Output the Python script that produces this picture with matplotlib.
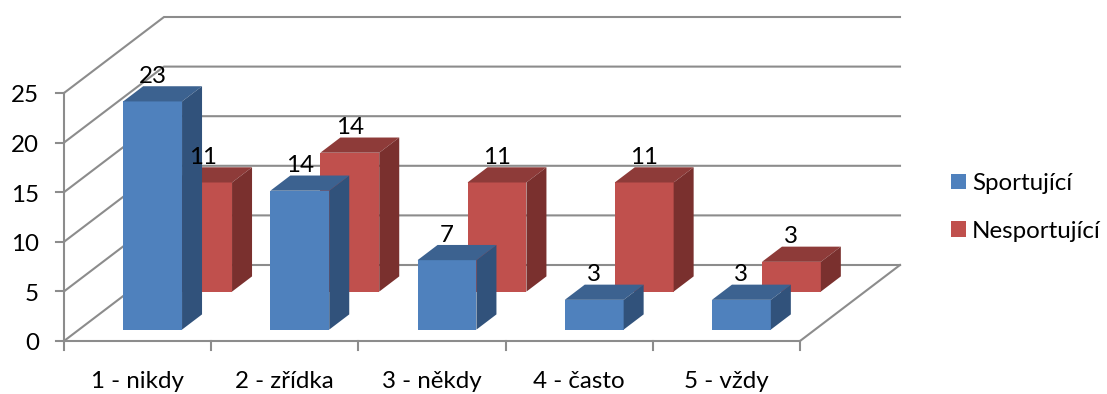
# 3D-style clustered columns: Sportující vs. Nesportující by frequency

import matplotlib
matplotlib.use("Agg")
import matplotlib.pyplot as plt
from matplotlib.patches import Patch, Polygon

plt.rcParams["font.family"] = ["Lato", "DejaVu Sans"]

categories = ["1 - nikdy", "2 - zřídka", "3 - někdy", "4 - často", "5 - vždy"]
sportujici = [23, 14, 7, 3, 3]
nesportujici = [11, 14, 11, 11, 3]
y_ticks = [0, 5, 10, 15, 20, 25]

# px per unit and the oblique depth vector of the box
PX_CAT = 147.2
PX_VAL = 9.92
DX = 100 / PX_CAT
DY = 76 / PX_VAL

GRID = "#8c8c8c"
FONT = 17.4
LW = 1.5


def proj(x, v, d):
    return x + d * DX, v + d * DY


def draw_bar(ax, i, val, d0, d1, front, top, side):
    x0, x1 = i + 0.3, i + 0.7
    ax.add_patch(Polygon([proj(x0, 0, d0), proj(x1, 0, d0), proj(x1, val, d0), proj(x0, val, d0)],
                         fc=front, ec="none", zorder=3))
    ax.add_patch(Polygon([proj(x0, val, d0), proj(x1, val, d0), proj(x1, val, d1), proj(x0, val, d1)],
                         fc=top, ec="none", zorder=3))
    ax.add_patch(Polygon([proj(x1, 0, d0), proj(x1, 0, d1), proj(x1, val, d1), proj(x1, val, d0)],
                         fc=side, ec="none", zorder=3))
    lx, ly = proj(i + 0.5, val, d0)
    ax.annotate(str(val), (lx, ly), xytext=(0, 18), textcoords="offset points",
                ha="center", va="center", fontsize=FONT, color="black", zorder=5)


fig = plt.figure(figsize=(11.07, 3.94), dpi=100)
ax = fig.add_axes([0, 0, 1, 1])
ax.set_xlim(-64 / PX_CAT, (1107 - 64) / PX_CAT)
ax.set_ylim(-(394 - 341) / PX_VAL, 341 / PX_VAL)
ax.axis("off")

n = len(categories)

# walls and floor
for t in y_ticks:
    xs, ys = zip(proj(0, t, 0), proj(0, t, 1), proj(n, t, 1))
    ax.plot(xs, ys, color=GRID, lw=LW, zorder=1, solid_joinstyle="miter")
    ax.plot([-8 / PX_CAT, 0], [t, t], color=GRID, lw=LW, zorder=1)
    ax.text(-25 / PX_CAT, t - 3 / PX_VAL, str(t), ha="right", va="center", fontsize=FONT)

ax.plot([0, 0], [0, y_ticks[-1]], color=GRID, lw=LW, zorder=2)
ax.plot([0, n], [0, 0], color=GRID, lw=LW, zorder=2)
xs, ys = zip(proj(n, 0, 0), proj(n, 0, 1))
ax.plot(xs, ys, color=GRID, lw=LW, zorder=2)

for i in range(n + 1):
    ax.plot([i, i], [0, -9 / PX_VAL], color=GRID, lw=LW, zorder=2)

for i, name in enumerate(categories):
    ax.text(i + 0.5, -41 / PX_VAL, name, ha="center", va="center", fontsize=FONT)

# back row first so the blue bars cover it
for i, val in enumerate(nesportujici):
    draw_bar(ax, i, val, 0.65, 0.85, "#C0504D", "#8E3B39", "#7A302E")
for i, val in enumerate(sportujici):
    draw_bar(ax, i, val, 0.15, 0.35, "#4F81BD", "#3C6290", "#31527B")

handles = [Patch(fc="#4F81BD", label="Sportující"), Patch(fc="#C0504D", label="Nesportující")]
ax.legend(handles=handles, loc="upper left", bbox_to_anchor=(951 / 1107, 1 - 173 / 394),
          frameon=False, fontsize=FONT, borderpad=0, borderaxespad=0,
          handlelength=10.8 / FONT, handleheight=10.8 / FONT, handletextpad=0.25,
          labelspacing=1.1)

fig.savefig("out.png", dpi=100)
